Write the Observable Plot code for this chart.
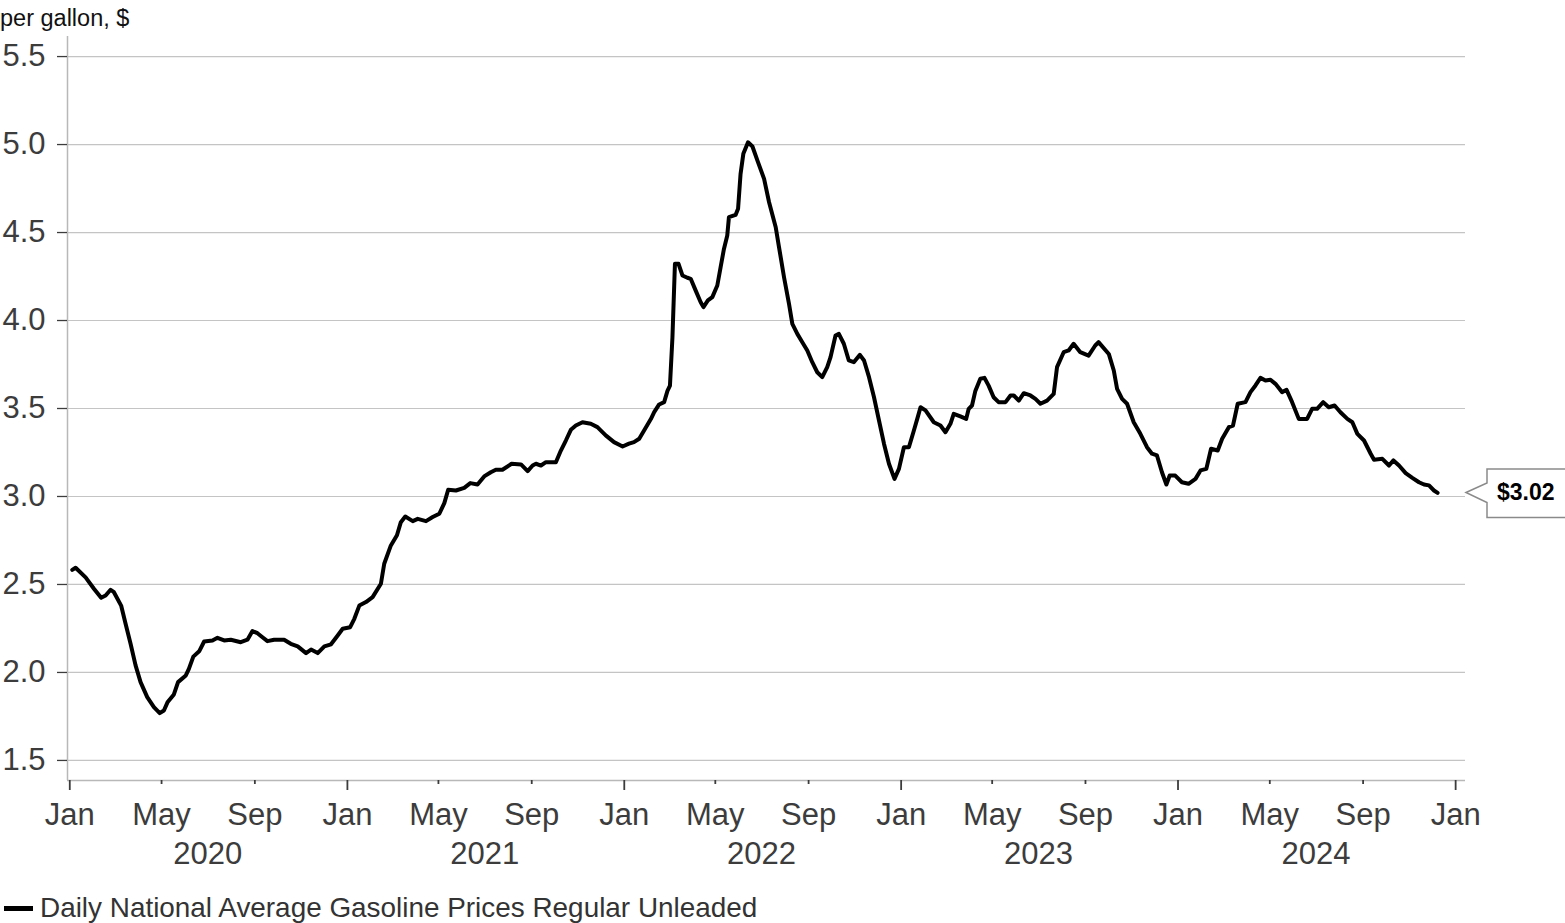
<!DOCTYPE html>
<html>
<head>
<meta charset="utf-8">
<script src="https://cdn.jsdelivr.net/npm/d3@7"></script>
<script src="https://cdn.jsdelivr.net/npm/@observablehq/plot@0.6"></script>
<style>
  html, body { margin: 0; padding: 0; background: #fff; }
  body { width: 1565px; height: 923px; overflow: hidden; font-family: "Liberation Sans", Arial, sans-serif; }
  #unit { height: 36px; line-height: 36px; font-size: 23.5px; color: #111; white-space: nowrap; }
  #legend { display: flex; align-items: center; height: 30px; margin-top: 8px; font-size: 27.9px; color: #333; white-space: nowrap; }
  #legend .sw { display: inline-block; width: 29px; height: 5px; background: #000; margin-left: 4px; margin-right: 7px; }
</style>
</head>
<body>
<div id="unit">per gallon, $</div>
<div id="chart"></div>
<div id="legend"><span class="sw"></span><span>Daily National Average Gasoline Prices Regular Unleaded</span></div>
<script>
// ---- data (decimal year, $ per gallon) ----
const years = [
  2020.009, 2020.021, 2020.057, 2020.087, 2020.113, 2020.129, 2020.147, 2020.159, 2020.185, 2020.201,
  2020.219, 2020.237, 2020.255, 2020.279, 2020.303, 2020.324, 2020.339, 2020.352, 2020.375, 2020.390,
  2020.418, 2020.429, 2020.445, 2020.466, 2020.484, 2020.514, 2020.532, 2020.556, 2020.580, 2020.616,
  2020.640, 2020.658, 2020.676, 2020.694, 2020.712, 2020.736, 2020.772, 2020.796, 2020.821, 2020.851,
  2020.869, 2020.893, 2020.917, 2020.941, 2020.965, 2020.983, 2021.010, 2021.025, 2021.043, 2021.067,
  2021.091, 2021.121, 2021.133, 2021.157, 2021.179, 2021.193, 2021.209, 2021.236, 2021.254, 2021.284,
  2021.308, 2021.332, 2021.350, 2021.364, 2021.392, 2021.422, 2021.444, 2021.470, 2021.494, 2021.518,
  2021.536, 2021.560, 2021.593, 2021.627, 2021.651, 2021.669, 2021.681, 2021.699, 2021.717, 2021.753,
  2021.771, 2021.789, 2021.807, 2021.825, 2021.849, 2021.879, 2021.903, 2021.933, 2021.963, 2021.994,
  2022.017, 2022.035, 2022.054, 2022.096, 2022.108, 2022.126, 2022.144, 2022.156, 2022.165, 2022.174,
  2022.183, 2022.196, 2022.210, 2022.228, 2022.240, 2022.258, 2022.276, 2022.286, 2022.302, 2022.318,
  2022.336, 2022.348, 2022.360, 2022.372, 2022.378, 2022.402, 2022.411, 2022.420, 2022.430, 2022.447,
  2022.463, 2022.481, 2022.505, 2022.523, 2022.547, 2022.559, 2022.577, 2022.595, 2022.607, 2022.625,
  2022.643, 2022.661, 2022.679, 2022.697, 2022.715, 2022.733, 2022.745, 2022.763, 2022.775, 2022.793,
  2022.811, 2022.829, 2022.851, 2022.866, 2022.884, 2022.902, 2022.920, 2022.938, 2022.956, 2022.976,
  2022.992, 2023.010, 2023.028, 2023.046, 2023.060, 2023.070, 2023.088, 2023.118, 2023.142, 2023.160,
  2023.178, 2023.190, 2023.214, 2023.235, 2023.244, 2023.256, 2023.268, 2023.286, 2023.301, 2023.316,
  2023.334, 2023.352, 2023.377, 2023.395, 2023.407, 2023.425, 2023.443, 2023.467, 2023.485, 2023.503,
  2023.527, 2023.551, 2023.563, 2023.587, 2023.605, 2023.623, 2023.647, 2023.677, 2023.701, 2023.713,
  2023.750, 2023.768, 2023.780, 2023.798, 2023.816, 2023.840, 2023.864, 2023.888, 2023.906, 2023.924,
  2023.942, 2023.958, 2023.970, 2023.990, 2024.014, 2024.038, 2024.063, 2024.081, 2024.102, 2024.119,
  2024.143, 2024.159, 2024.183, 2024.198, 2024.215, 2024.243, 2024.261, 2024.279, 2024.297, 2024.315,
  2024.333, 2024.351, 2024.375, 2024.391, 2024.411, 2024.435, 2024.465, 2024.483, 2024.501, 2024.523,
  2024.543, 2024.564, 2024.585, 2024.610, 2024.628, 2024.646, 2024.670, 2024.694, 2024.706, 2024.736,
  2024.760, 2024.776, 2024.796, 2024.820, 2024.844, 2024.868, 2024.886, 2024.904, 2024.922, 2024.935
];
const prices = [
  2.583, 2.595, 2.540, 2.476, 2.424, 2.437, 2.470, 2.456, 2.380, 2.277,
  2.163, 2.040, 1.945, 1.860, 1.803, 1.769, 1.784, 1.830, 1.875, 1.945,
  1.983, 2.020, 2.090, 2.120, 2.176, 2.182, 2.197, 2.182, 2.186, 2.172,
  2.186, 2.235, 2.223, 2.200, 2.178, 2.186, 2.186, 2.163, 2.148, 2.110,
  2.130, 2.110, 2.148, 2.160, 2.210, 2.248, 2.257, 2.305, 2.380, 2.400,
  2.428, 2.504, 2.618, 2.722, 2.780, 2.854, 2.886, 2.860, 2.873, 2.860,
  2.883, 2.902, 2.962, 3.038, 3.034, 3.049, 3.076, 3.068, 3.114, 3.138,
  3.152, 3.152, 3.186, 3.182, 3.144, 3.176, 3.186, 3.176, 3.195, 3.195,
  3.261, 3.318, 3.379, 3.403, 3.422, 3.413, 3.394, 3.347, 3.309, 3.284,
  3.300, 3.309, 3.328, 3.440, 3.479, 3.523, 3.536, 3.600, 3.630, 3.905,
  4.322, 4.322, 4.256, 4.243, 4.237, 4.170, 4.104, 4.076, 4.114, 4.133,
  4.199, 4.303, 4.407, 4.483, 4.587, 4.600, 4.635, 4.833, 4.947, 5.013,
  4.989, 4.909, 4.805, 4.672, 4.530, 4.416, 4.246, 4.095, 3.981, 3.924,
  3.877, 3.830, 3.763, 3.706, 3.678, 3.735, 3.792, 3.915, 3.924, 3.868,
  3.773, 3.763, 3.805, 3.773, 3.678, 3.564, 3.432, 3.300, 3.186, 3.100,
  3.157, 3.280, 3.280, 3.375, 3.451, 3.507, 3.489, 3.422, 3.403, 3.365,
  3.413, 3.470, 3.455, 3.441, 3.498, 3.517, 3.600, 3.669, 3.674, 3.630,
  3.564, 3.536, 3.536, 3.574, 3.574, 3.545, 3.587, 3.574, 3.555, 3.527,
  3.545, 3.583, 3.735, 3.820, 3.830, 3.868, 3.820, 3.800, 3.858, 3.877,
  3.810, 3.716, 3.612, 3.555, 3.527, 3.422, 3.356, 3.280, 3.243, 3.233,
  3.138, 3.068, 3.119, 3.119, 3.081, 3.072, 3.100, 3.148, 3.157, 3.271,
  3.261, 3.328, 3.394, 3.403, 3.527, 3.536, 3.593, 3.631, 3.674, 3.659,
  3.663, 3.640, 3.593, 3.606, 3.536, 3.441, 3.441, 3.498, 3.498, 3.536,
  3.507, 3.517, 3.479, 3.441, 3.422, 3.356, 3.318, 3.243, 3.209, 3.214,
  3.176, 3.205, 3.176, 3.133, 3.106, 3.081, 3.068, 3.063, 3.034, 3.020
];
const seriesName = "Daily National Average Gasoline Prices Regular Unleaded";
const lastLabel = "$3.02";
const yTicks = [1.5, 2.0, 2.5, 3.0, 3.5, 4.0, 4.5, 5.0, 5.5];
const janTicks = ["2020-01-01", "2021-01-01", "2022-01-01", "2023-01-01", "2024-01-01", "2025-01-01"];
const midTicks = ["2020-05-01", "2020-09-01", "2021-05-01", "2021-09-01", "2022-05-01", "2022-09-01",
                  "2023-05-01", "2023-09-01", "2024-05-01", "2024-09-01"];
const yearLabelDates = ["2020-07-01", "2021-07-01", "2022-07-01", "2023-07-01", "2024-07-01"];
const xDomainStr = ["2019-12-29", "2025-01-14"];
const yDomain = [1.386, 5.614];

// ---- build ----
const toDate = t => {
  const y = Math.floor(t);
  const s = Date.UTC(y, 0, 1), e = Date.UTC(y + 1, 0, 1);
  return new Date(s + (t - y) * (e - s));
};
const parse = s => new Date(s + "T00:00:00Z");
const data = years.map((t, i) => ({date: toDate(t), price: prices[i]}));
const xDomain = xDomainStr.map(parse);
const jan = janTicks.map(parse), mid = midTicks.map(parse);
const allMonths = [...jan, ...mid].sort((a, b) => a - b);
const yearMid = yearLabelDates.map(parse);

const W = 1565, H = 849;
const chart = Plot.plot({
  width: W, height: H,
  marginTop: 0, marginLeft: 67, marginRight: 100, marginBottom: 105,
  style: {fontFamily: "'Liberation Sans', Arial, sans-serif", fontSize: "30px", color: "#3c3c3c", background: "white", overflow: "visible"},
  x: {type: "utc", domain: xDomain},
  y: {domain: yDomain},
  marks: [
    Plot.gridY(yTicks, {stroke: "#c4c4c4", strokeOpacity: 1, strokeWidth: 1.2}),
    Plot.ruleX([xDomain[0]], {stroke: "#b8b8b8", strokeWidth: 1.5}),
    Plot.ruleY([yDomain[0]], {stroke: "#b8b8b8", strokeWidth: 1.5}),
    Plot.axisY(yTicks, {tickSize: 10, tickPadding: 12, tickFormat: d => d.toFixed(1), label: null, fontSize: 31, strokeWidth: 1.3}),
    Plot.axisX(jan, {tickSize: 10, tickFormat: () => "", label: null, strokeWidth: 1.8}),
    Plot.axisX(mid, {tickSize: 4, tickFormat: () => "", label: null, strokeWidth: 1.8}),
    Plot.axisX(allMonths, {tickSize: 0, tickPadding: 22, tickFormat: d3.utcFormat("%b"), label: null, fontSize: 31}),
    Plot.axisX(yearMid, {tickSize: 0, tickPadding: 61, tickFormat: d3.utcFormat("%Y"), label: null, fontSize: 31}),
    Plot.line(data, {x: "date", y: "price", stroke: "#000", strokeWidth: 4, strokeLinejoin: "round", strokeLinecap: "round"})
  ]
});
document.getElementById("chart").appendChild(chart);

// ---- last-value callout ----
const last = data[data.length - 1];
const yv = chart.scale("y").apply(last.price);
const xr = W - 100 + 1;
const svg = d3.select(chart);
const g = svg.append("g");
g.append("path")
  .attr("d", `M${xr},${yv} L${xr + 21},${yv - 9.5} L${xr + 21},${yv - 23.5} L${W + 10},${yv - 23.5} L${W + 10},${yv + 25} L${xr + 21},${yv + 25} L${xr + 21},${yv + 10} Z`)
  .attr("fill", "#fff").attr("stroke", "#8a8a8a").attr("stroke-width", 1.5);
g.append("text")
  .attr("x", xr + 31).attr("y", yv + 1.5)
  .attr("text-anchor", "start")
  .attr("dominant-baseline", "middle")
  .attr("font-family", "'Liberation Sans', Arial, sans-serif")
  .attr("font-size", 23).attr("font-weight", "bold").attr("fill", "#000")
  .text(lastLabel);
</script>
</body>
</html>
